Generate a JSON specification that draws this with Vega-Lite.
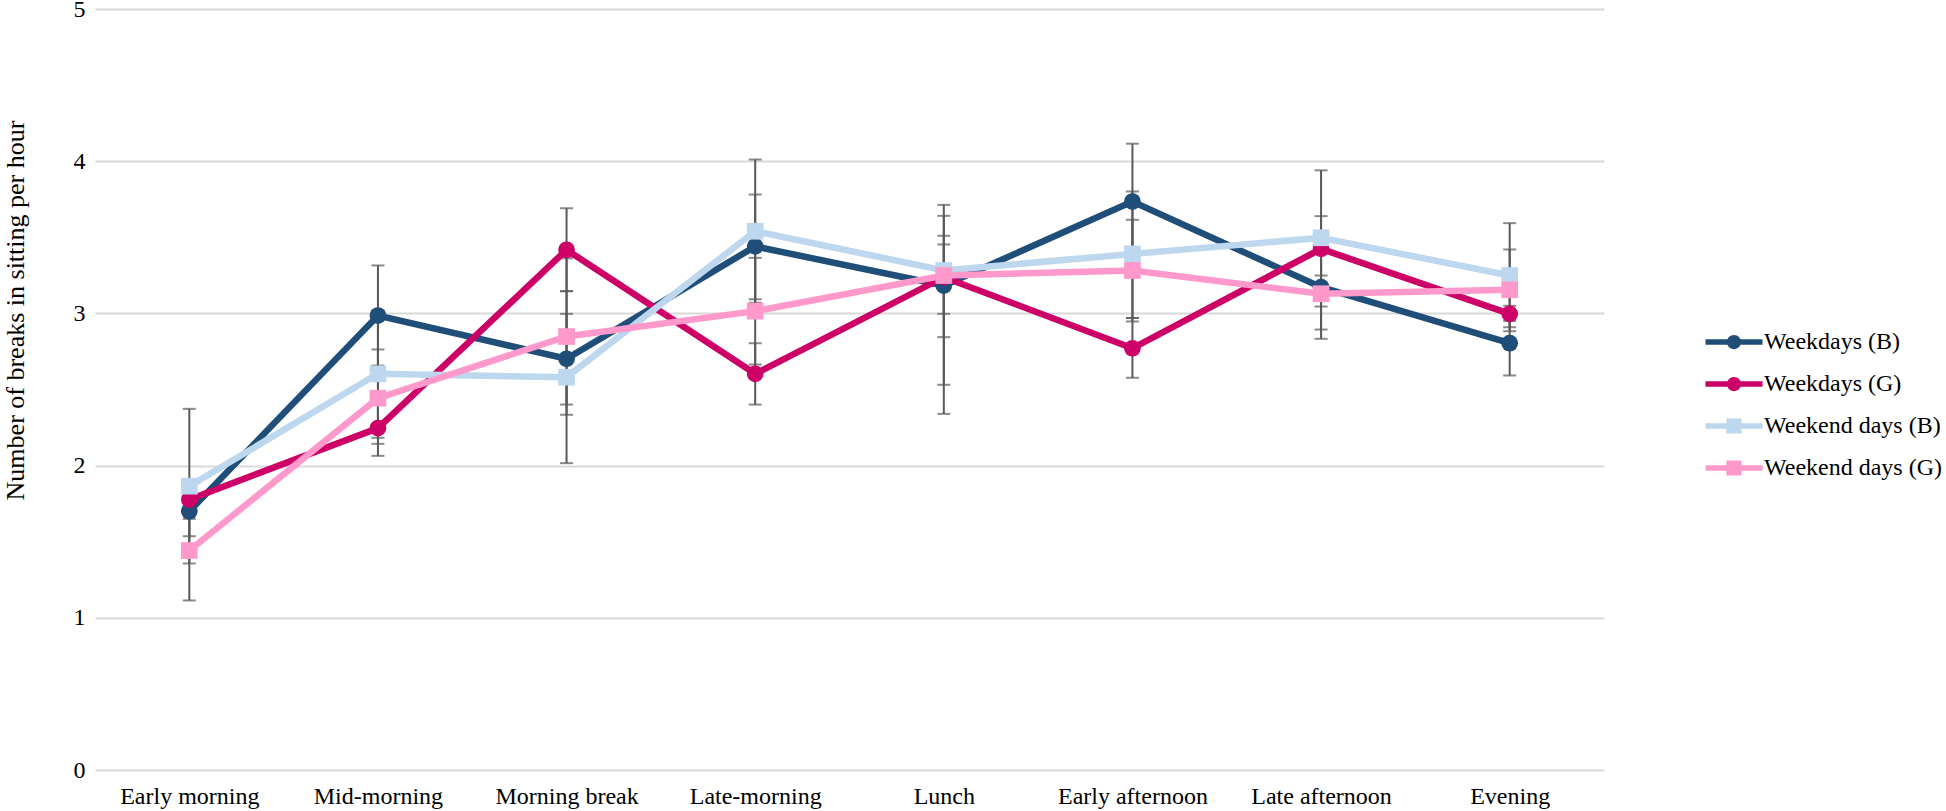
{
  "$schema": "https://vega.github.io/schema/vega-lite/v6.json",
  "autosize": {"type": "none"},
  "width": 1509,
  "height": 761,
  "padding": {"left": 95, "top": 9, "right": 342, "bottom": 41},
  "background": "white",
  "config": {
    "view": {"stroke": null},
    "font": "Liberation Serif",
    "axis": {"labelFont": "Liberation Serif", "titleFont": "Liberation Serif", "labelColor": "#000000", "titleColor": "#000000"},
    "legend": {"labelFont": "Liberation Serif", "labelColor": "#000000"}
  },
  "data": {
    "values": [
      {"cat": "Early morning", "series": "Weekdays (B)", "value": 1.70, "lo": 1.536, "hi": 1.864},
      {"cat": "Early morning", "series": "Weekdays (G)", "value": 1.777, "lo": 1.65, "hi": 1.904},
      {"cat": "Early morning", "series": "Weekend days (B)", "value": 1.865, "lo": 1.357, "hi": 2.373},
      {"cat": "Early morning", "series": "Weekend days (G)", "value": 1.442, "lo": 1.114, "hi": 1.77},
      {"cat": "Mid-morning", "series": "Weekdays (B)", "value": 2.986, "lo": 2.657, "hi": 3.315},
      {"cat": "Mid-morning", "series": "Weekdays (G)", "value": 2.246, "lo": 2.064, "hi": 2.428},
      {"cat": "Mid-morning", "series": "Weekend days (B)", "value": 2.603, "lo": 2.183, "hi": 3.02},
      {"cat": "Mid-morning", "series": "Weekend days (G)", "value": 2.443, "lo": 2.143, "hi": 2.763},
      {"cat": "Morning break", "series": "Weekdays (B)", "value": 2.702, "lo": 2.401, "hi": 2.997},
      {"cat": "Morning break", "series": "Weekdays (G)", "value": 3.418, "lo": 3.146, "hi": 3.691},
      {"cat": "Morning break", "series": "Weekend days (B)", "value": 2.581, "lo": 2.016, "hi": 3.146},
      {"cat": "Morning break", "series": "Weekend days (G)", "value": 2.848, "lo": 2.334, "hi": 3.362},
      {"cat": "Late-morning", "series": "Weekdays (B)", "value": 3.44, "lo": 3.093, "hi": 3.781},
      {"cat": "Late-morning", "series": "Weekdays (G)", "value": 2.603, "lo": 2.401, "hi": 2.804},
      {"cat": "Late-morning", "series": "Weekend days (B)", "value": 3.54, "lo": 3.07, "hi": 4.011},
      {"cat": "Late-morning", "series": "Weekend days (G)", "value": 3.015, "lo": 2.664, "hi": 3.365},
      {"cat": "Lunch", "series": "Weekdays (B)", "value": 3.183, "lo": 2.844, "hi": 3.51},
      {"cat": "Lunch", "series": "Weekdays (G)", "value": 3.238, "lo": 2.34, "hi": 3.453},
      {"cat": "Lunch", "series": "Weekend days (B)", "value": 3.282, "lo": 2.997, "hi": 3.641},
      {"cat": "Lunch", "series": "Weekend days (G)", "value": 3.249, "lo": 2.531, "hi": 3.713},
      {"cat": "Early afternoon", "series": "Weekdays (B)", "value": 3.735, "lo": 3.355, "hi": 4.115},
      {"cat": "Early afternoon", "series": "Weekdays (G)", "value": 2.771, "lo": 2.577, "hi": 2.97},
      {"cat": "Early afternoon", "series": "Weekend days (B)", "value": 3.391, "lo": 2.97, "hi": 3.801},
      {"cat": "Early afternoon", "series": "Weekend days (G)", "value": 3.282, "lo": 2.947, "hi": 3.615},
      {"cat": "Late afternoon", "series": "Weekdays (B)", "value": 3.172, "lo": 2.894, "hi": 3.45},
      {"cat": "Late afternoon", "series": "Weekdays (G)", "value": 3.424, "lo": 3.249, "hi": 3.639},
      {"cat": "Late afternoon", "series": "Weekend days (B)", "value": 3.497, "lo": 3.045, "hi": 3.94},
      {"cat": "Late afternoon", "series": "Weekend days (G)", "value": 3.129, "lo": 2.833, "hi": 3.425},
      {"cat": "Evening", "series": "Weekdays (B)", "value": 2.804, "lo": 2.592, "hi": 3.016},
      {"cat": "Evening", "series": "Weekdays (G)", "value": 2.997, "lo": 2.95, "hi": 3.05},
      {"cat": "Evening", "series": "Weekend days (B)", "value": 3.249, "lo": 2.909, "hi": 3.593},
      {"cat": "Evening", "series": "Weekend days (G)", "value": 3.155, "lo": 2.883, "hi": 3.42}
    ]
  },
  "encoding": {
    "x": {
      "field": "cat", "type": "ordinal",
      "sort": ["Early morning", "Mid-morning", "Morning break", "Late-morning", "Lunch", "Early afternoon", "Late afternoon", "Evening"],
      "scale": {"type": "point", "padding": 0.5},
      "axis": {"title": null, "labelAngle": 0, "labelFontSize": 24, "labelPadding": 14, "ticks": false, "domain": false, "grid": false}
    }
  },
  "layer": [
    {
      "mark": {"type": "point", "filled": true, "opacity": 0, "strokeWidth": 0, "size": 10},
      "encoding": {
        "y": {"field": "value", "type": "quantitative", "scale": {"domain": [0, 5]}},
        "color": {"field": "series", "type": "nominal"},
        "shape": {"field": "series", "type": "nominal",
          "scale": {"domain": ["Weekdays (B)", "Weekdays (G)", "Weekend days (B)", "Weekend days (G)"],
            "range": [
              "M-3,-0.3L3,-0.3L3,0.3L-3,0.3Z M0.75,0A0.75,0.75 0 1,1 -0.75,0A0.75,0.75 0 1,1 0.75,0Z",
              "M-3,-0.3L3,-0.3L3,0.3L-3,0.3Z M0.75,0A0.75,0.75 0 1,1 -0.75,0A0.75,0.75 0 1,1 0.75,0Z",
              "M-3,-0.3L3,-0.3L3,0.3L-3,0.3Z M-0.8,-0.8L0.8,-0.8L0.8,0.8L-0.8,0.8Z",
              "M-3,-0.3L3,-0.3L3,0.3L-3,0.3Z M-0.8,-0.8L0.8,-0.8L0.8,0.8L-0.8,0.8Z"
            ]}}
      }
    },
    {
      "mark": {"type": "rule", "color": "#595959", "strokeWidth": 2},
      "encoding": {
        "y": {"field": "lo", "type": "quantitative", "scale": {"domain": [0, 5]},
          "axis": {"title": "Number of breaks in sitting per hour", "titleFontSize": 26, "titleFontWeight": "normal",
            "titleAngle": 270, "titleX": -80, "titleY": 301, "titleAlign": "center", "titleBaseline": "middle",
            "values": [0, 1, 2, 3, 4, 5], "format": "d", "labelFontSize": 24, "labelPadding": 10, "ticks": false, "domain": false,
            "grid": true, "gridColor": "#d9d9d9", "gridWidth": 2}},
        "y2": {"field": "hi"}
      }
    },
    {
      "mark": {"type": "tick", "color": "#595959", "thickness": 2, "size": 13, "orient": "horizontal"},
      "encoding": {"y": {"field": "lo", "type": "quantitative"}}
    },
    {
      "mark": {"type": "tick", "color": "#595959", "thickness": 2, "size": 13, "orient": "horizontal"},
      "encoding": {"y": {"field": "hi", "type": "quantitative"}}
    },
    {
      "mark": {"type": "line", "strokeWidth": 6.5},
      "encoding": {
        "y": {"field": "value", "type": "quantitative"},
        "color": {"field": "series", "type": "nominal",
          "scale": {"domain": ["Weekdays (B)", "Weekdays (G)", "Weekend days (B)", "Weekend days (G)"],
            "range": ["#1f4e79", "#cc0066", "#bdd7ee", "#ff99cc"]},
          "legend": {
            "orient": "none", "legendX": 1627, "legendY": 321, "title": null,
            "labelFontSize": 24, "labelOffset": 18, "labelLimit": 0, "rowPadding": 18, "padding": 0,
            "symbolSize": 361, "symbolStrokeWidth": 0, "symbolOpacity": 1, "symbolFillColor": null
          }
        }
      }
    },
    {
      "transform": [{"filter": "indexof(datum.series, 'Weekdays') >= 0"}],
      "mark": {"type": "point", "shape": "circle", "filled": true, "opacity": 1, "strokeWidth": 0, "size": 280},
      "encoding": {
        "y": {"field": "value", "type": "quantitative"},
        "color": {"field": "series", "type": "nominal"}
      }
    },
    {
      "transform": [{"filter": "indexof(datum.series, 'Weekend') >= 0"}],
      "mark": {"type": "point", "shape": "square", "filled": true, "opacity": 1, "strokeWidth": 0, "size": 280},
      "encoding": {
        "y": {"field": "value", "type": "quantitative"},
        "color": {"field": "series", "type": "nominal"}
      }
    }
  ]
}
